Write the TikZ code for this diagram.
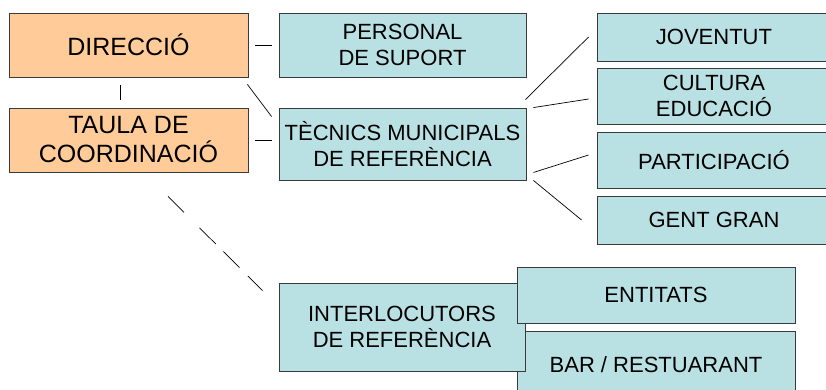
\documentclass[tikz,border=0pt]{standalone}
\usepackage{fontspec}
\setmainfont{Liberation Sans}
\usetikzlibrary{calc}
\definecolor{boxorange}{HTML}{FFCC99}
\definecolor{boxteal}{HTML}{B9E0E3}
\definecolor{boxline}{HTML}{3A3A3A}
\tikzset{
  box/.style={draw=boxline, line width=0.9pt, rectangle, inner sep=0pt, align=center,
    font=\fontsize{22}{26}\selectfont, text=black},
  obox/.style={box, fill=boxorange, font=\fontsize{25}{29}\selectfont},
  tbox/.style={box, fill=boxteal},
  conn/.style={draw=black, line width=0.7pt},
  dconn/.style={conn, dash pattern=on 22.6pt off 21.9pt on 23pt off 10.6pt on 22.7pt off 12pt on 22pt off 40pt}
}
\begin{document}
\begin{tikzpicture}[x=1pt,y=-1pt]
\useasboundingbox (0,0) rectangle (826,389);
\clip (0,0) rectangle (826,389);
\fill[white] (0,0) rectangle (826,389);
% left column
\node[obox, minimum width=239pt, minimum height=64pt] (dir) at (128.5,45) {DIRECCIÓ};
\node[obox, minimum width=239pt, minimum height=64pt] (taula) at (128.5,140) {TAULA DE\\COORDINACIÓ};
% middle column
\node[tbox, minimum width=247pt, minimum height=64pt] (pers) at (402.5,45) {PERSONAL\\DE SUPORT};
\node[tbox, minimum width=247pt, minimum height=72pt] (tec) at (402.5,144) {TÈCNICS MUNICIPALS\\DE REFERÈNCIA};
% right column
\node[tbox, minimum width=234pt, minimum height=48pt] (jov) at (714,37) {JOVENTUT};
\node[tbox, minimum width=234pt, minimum height=56pt] (cult) at (714,96) {CULTURA\\EDUCACIÓ};
\node[tbox, minimum width=234pt, minimum height=56pt] (part) at (714,160) {PARTICIPACIÓ};
\node[tbox, minimum width=234pt, minimum height=48pt] (gent) at (714,220) {GENT GRAN};
% bottom group
\node[tbox, minimum width=278pt, minimum height=67pt] (bar) at (656,364.5) {BAR / RESTUARANT};
\node[tbox, minimum width=246pt, minimum height=88pt] (inter) at (402,327) {INTERLOCUTORS\\DE REFERÈNCIA};
\node[tbox, minimum width=278pt, minimum height=56pt] (ent) at (656,295) {ENTITATS};
% connectors
\draw[conn] ($(dir.east)+(7,0)$) -- ($(pers.west)+(-7,0)$);
\draw[conn] ($(dir.south)+(-8.5,8)$) -- ($(taula.north)+(-8.5,-8)$);
\draw[conn] ($(dir.south east)+(-1,7)$) -- ($(tec.north west)+(-7,9)$);
\draw[conn] ($(taula.east)+(7,0)$) -- ($(taula.east -| tec.west)+(-7,0)$);
\draw[conn] ($(tec.north east)+(-1,-8)$) -- ($(jov.west)+(-8,0)$);
\draw[conn] ($(tec.north east)+(7,0)$) -- ($(cult.west)+(-8,3)$);
\draw[conn] ($(tec.south east)+(7,-8)$) -- ($(part.west)+(-8,-5)$);
\draw[conn] ($(tec.south east)+(7,0)$) -- ($(gent.west)+(-15,0)$);
\draw[dconn] ($(taula.south)+(39.5,24)$) -- ($(inter.north west)+(-16,8)$);
\end{tikzpicture}
\end{document}
